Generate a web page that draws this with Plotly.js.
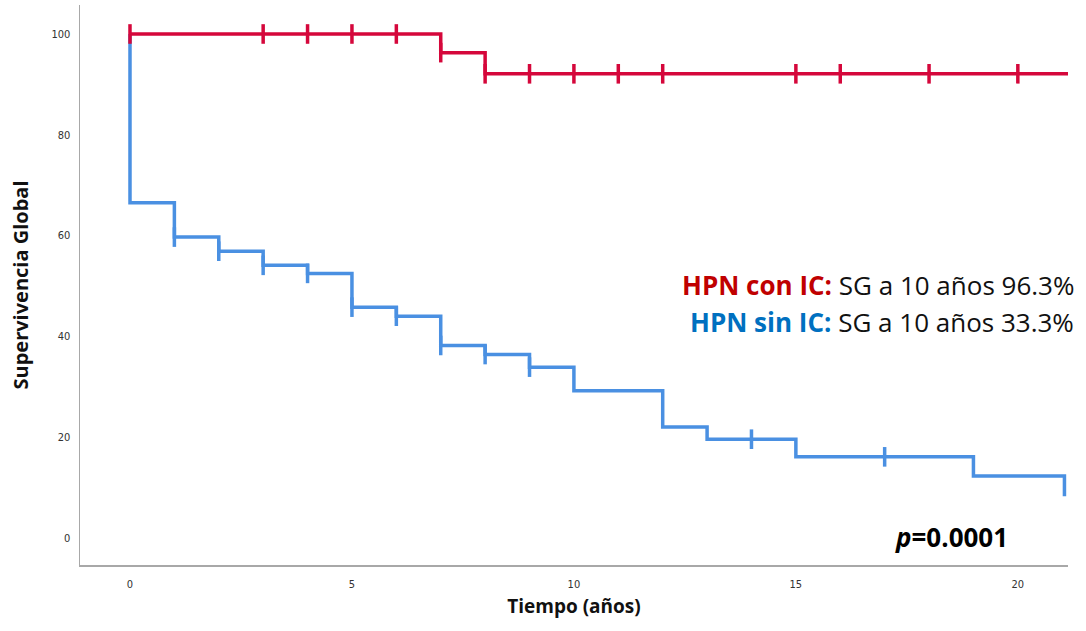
<!DOCTYPE html>
<html>
<head>
<meta charset="utf-8">
<script src="https://cdn.plot.ly/plotly-3.0.1.min.js"></script>
<style>html,body{margin:0;padding:0;background:#fff;}#chart{width:1086px;height:631px;}</style>
</head>
<body>
<div id="chart"></div>
<script>
// Kaplan-Meier step data
const conICTimes = [0, 7, 8, 21.2];
const conICSurv = [100, 96.3, 92.1, 92.1];
const conICCensor = [0, 3, 4, 5, 6, 7, 8, 9, 10, 11, 12, 15, 16, 18, 20];

const sinICTimes = [0, 0, 1, 2, 3, 4, 5, 6, 7, 8, 9, 10, 12, 13, 15, 19, 21.05];
const sinICSurv = [100, 66.5, 59.7, 56.9, 54.1, 52.5, 45.8, 44.0, 38.2, 36.4, 33.9, 29.2, 22.0, 19.6, 16.1, 12.3, 8.3];
const sinICCensor = [1, 2, 3, 4, 5, 6, 7, 8, 9, 14, 17];

const xTicks = [0, 5, 10, 15, 20];
const yTicks = [0, 20, 40, 60, 80, 100];

const RED = '#d5073b';
const BLUE = '#4a90e2';

function survAt(times, surv, t) {
  let v = surv[0];
  for (let i = 0; i < times.length; i++) { if (times[i] <= t) v = surv[i]; }
  return v;
}

const traces = [
  {x: sinICTimes, y: sinICSurv, type: 'scatter', mode: 'lines', line: {shape: 'hv', color: BLUE, width: 3.5}, hoverinfo: 'skip'},
  {x: sinICCensor, y: sinICCensor.map(t => survAt(sinICTimes, sinICSurv, t)), type: 'scatter', mode: 'markers',
   marker: {symbol: 'line-ns-open', size: 14, color: BLUE, line: {color: BLUE, width: 3.5}}, hoverinfo: 'skip'},
  {x: conICTimes, y: conICSurv, type: 'scatter', mode: 'lines', line: {shape: 'hv', color: RED, width: 3.5}, hoverinfo: 'skip'},
  {x: conICCensor, y: conICCensor.map(t => survAt(conICTimes, conICSurv, t)), type: 'scatter', mode: 'markers',
   marker: {symbol: 'line-ns-open', size: 14, color: RED, line: {color: RED, width: 3.5}}, hoverinfo: 'skip'}
];

const F = '"Open Sans", sans-serif';

const layout = {
  width: 1086, height: 631,
  margin: {l: 80, r: 18, t: 5, b: 66},
  paper_bgcolor: '#fff', plot_bgcolor: '#fff',
  showlegend: false,
  xaxis: {
    range: [-1.126, 21.13], tickvals: xTicks, ticktext: xTicks.map(String),
    showgrid: false, zeroline: false, showline: true, linecolor: '#a8a8a8', linewidth: 1.5,
    ticks: '', ticklabelstandoff: 8,
    tickfont: {family: '"DejaVu Sans Condensed", "DejaVu Sans", sans-serif', size: 11, color: '#333'},
    title: {text: '<b>Tiempo (años)</b>', font: {family: F, size: 19, color: '#111'}, standoff: 10}
  },
  yaxis: {
    range: [-5.36, 105.75], tickvals: yTicks, ticktext: yTicks.map(String),
    showgrid: false, zeroline: false, showline: true, linecolor: '#a8a8a8', linewidth: 1.5,
    ticks: '', ticklabelstandoff: 6,
    tickfont: {family: '"DejaVu Sans Condensed", "DejaVu Sans", sans-serif', size: 11, color: '#333'},
    title: {text: '<b>Supervivencia Global</b>', font: {family: F, size: 20, color: '#111'}, standoff: 17}
  },
  annotations: [
    {xref: 'paper', yref: 'paper', x: 1.008, y: 0.5, xanchor: 'right', yanchor: 'middle', showarrow: false,
     text: '<b><span style="color:#c00000">HPN con IC:</span></b> SG a 10 años 96.3%',
     font: {family: F, size: 26, color: '#111'}},
    {xref: 'paper', yref: 'paper', x: 1.008, y: 0.434, xanchor: 'right', yanchor: 'middle', showarrow: false,
     text: '<b><span style="color:#0070c0">HPN sin IC:</span></b> SG a 10 años 33.3%',
     font: {family: F, size: 26, color: '#111'}},
    {xref: 'paper', yref: 'paper', x: 0.941, y: 0.05, xanchor: 'right', yanchor: 'middle', showarrow: false,
     text: '<b><i>p</i>=0.0001</b>',
     font: {family: F, size: 26, color: '#000'}}
  ]
};

Plotly.newPlot('chart', traces, layout, {displayModeBar: false, staticPlot: true});
</script>
</body>
</html>
